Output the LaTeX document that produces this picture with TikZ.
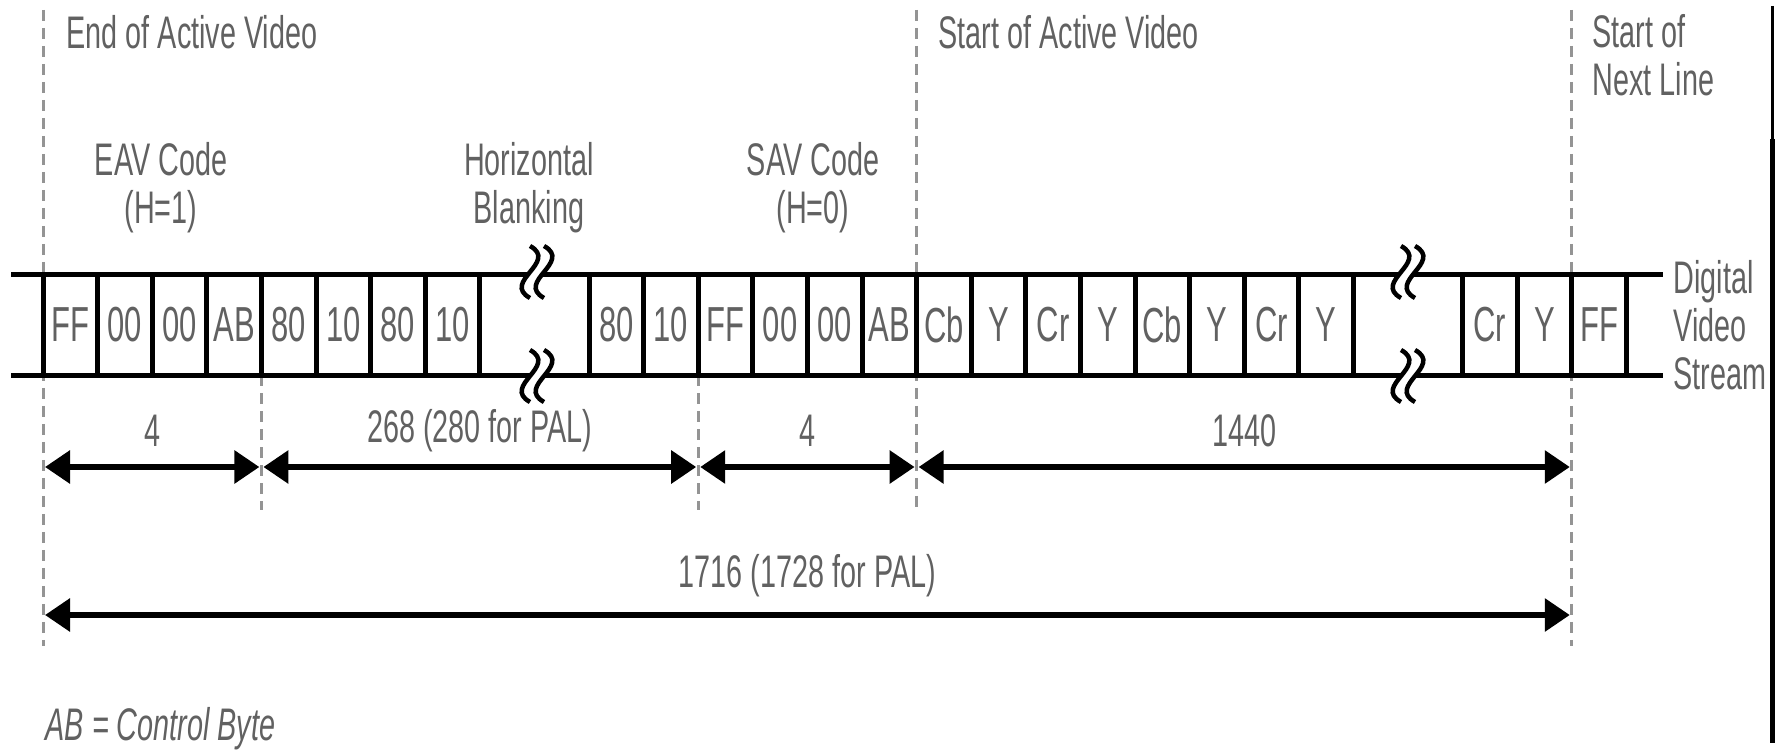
\documentclass[tikz,border=0pt]{standalone}
\usepackage{fontspec}
\setmainfont{Liberation Sans}[FakeStretch=0.63]
\usetikzlibrary{arrows.meta}
\definecolor{txtgray}{gray}{0.38}
\definecolor{rulegray}{gray}{0.58}
\tikzset{
    cell/.style={draw=black, line width=0.5mm, minimum width=5.46mm, minimum height=10.1mm, inner sep=0pt, text=txtgray, font=\fontsize{14pt}{14pt}\selectfont},
    lbl/.style={inner sep=0pt, text=txtgray, font=\fontsize{13pt}{13.6pt}\selectfont},
    guide/.style={rulegray, line width=0.3mm, dash pattern=on 1.1mm off 0.7mm},
    dim/.style={line width=0.6mm, {Triangle[length=2.5mm,width=3.2mm]}-{Triangle[length=2.5mm,width=3.2mm]}, shorten <=0.2mm, shorten >=0.2mm},
    stream/.style={line width=0.5mm},
}

\begin{document}
\begin{tikzpicture}[x=0.1mm, y=-0.1mm]
        \useasboundingbox (0,0) rectangle (1777,750);

        \coordinate (v0t) at (43,10);
        \coordinate (v0b) at (43,646);
        \coordinate (v4t) at (261.4,375);
        \coordinate (v4b) at (261.4,510);
        \coordinate (v12t) at (698.2,375);
        \coordinate (v12b) at (698.2,510);
        \coordinate (v16t) at (916.6,10);
        \coordinate (v16b) at (916.6,510);
        \coordinate (v28t) at (1571.8,10);
        \coordinate (v28b) at (1571.8,646);

        \draw[guide] (v0t) -- (v0b);
        \draw[guide] (v4t) -- (v4b);
        \draw[guide] (v12t) -- (v12b);
        \draw[guide] (v16t) -- (v16b);
        \draw[guide] (v28t) -- (v28b);

        \coordinate (tl) at (11,274);
        \coordinate (tr) at (1663,274);
        \coordinate (bl) at (11,375);
        \coordinate (br) at (1663,375);
        \draw[stream] (tl) -- (tr);
        \draw[stream] (bl) -- (br);

        \foreach \i/\val in {0/FF,1/00,2/00,3/AB,4/80,5/10,6/80,7/10,10/80,11/10,12/FF,13/00,14/00,15/AB,16/Cb,17/Y,18/Cr,19/Y,20/Cb,21/Y,22/Cr,23/Y,26/Cr,27/Y,28/FF}
            \node[cell] (c\i) at ({43+(\i+0.5)*54.6},324.5) {\val};

        \foreach \bx in {537,1408}
            \foreach \by in {272,376} {
                \fill[white] (\bx-7,\by-26) .. controls (\bx+22,\by-10) and (\bx-36,\by+10) .. (\bx-7,\by+26) -- (\bx+7,\by+26) .. controls (\bx-22,\by+10) and (\bx+36,\by-10) .. (\bx+7,\by-26) -- cycle;
                \draw[line width=0.45mm] (\bx-7,\by-26) .. controls (\bx+22,\by-10) and (\bx-36,\by+10) .. (\bx-7,\by+26);
                \draw[line width=0.45mm] (\bx+7,\by-26) .. controls (\bx+36,\by-10) and (\bx-22,\by+10) .. (\bx+7,\by+26);
            }

        \coordinate (g0) at (43,467);
        \coordinate (g4) at (261.4,467);
        \coordinate (g12) at (698.2,467);
        \coordinate (g16) at (916.6,467);
        \coordinate (g28) at (1571.8,467);
        \coordinate (h0) at (43,615);
        \coordinate (h28) at (1571.8,615);

        \draw[dim] (g0) -- node[lbl, yshift=3.6mm] (n4a) {4} (g4);
        \draw[dim] (g4) -- node[lbl, yshift=3.6mm] (n268) {268 (280 for PAL)} (g12);
        \draw[dim] (g12) -- node[lbl, yshift=3.6mm] (n4b) {4} (g16);
        \draw[dim] (g16) -- node[lbl, yshift=3.6mm] (n1440) {1440} (g28);
        \draw[dim] (h0) -- node[lbl, yshift=3.9mm] (n1716) {1716 (1728 for PAL)} (h28);

        \node[lbl, anchor=west] (eav) at (66,32) {End of Active Video};
        \node[lbl, anchor=west] (sav) at (938,32) {Start of Active Video};
        \node[lbl, anchor=west, align=left] (nxt) at (1592,55) {Start of\\Next Line};
        \node[lbl, align=center] (eavc) at (161,188) {EAV Code\\(H=1)};
        \node[lbl, align=center] (hblank) at (529,188) {Horizontal\\Blanking};
        \node[lbl, align=center] (savc) at (813,188) {SAV Code\\(H=0)};
        \node[lbl, anchor=west, align=left] (dvs) at (1673,325) {Digital\\Video\\Stream};
        \node[lbl, anchor=west, font=\fontsize{13pt}{13.6pt}\selectfont\itshape] (key) at (45,729) {AB = Control Byte};

        \coordinate (rt) at (1772,6);
        \coordinate (rm) at (1772,139);
        \coordinate (rb) at (1772,743);
        \draw[line width=0.3mm] (rt) -- (rm);
        \draw[line width=0.5mm] (rm) -- (rb);
\end{tikzpicture}
\end{document}
